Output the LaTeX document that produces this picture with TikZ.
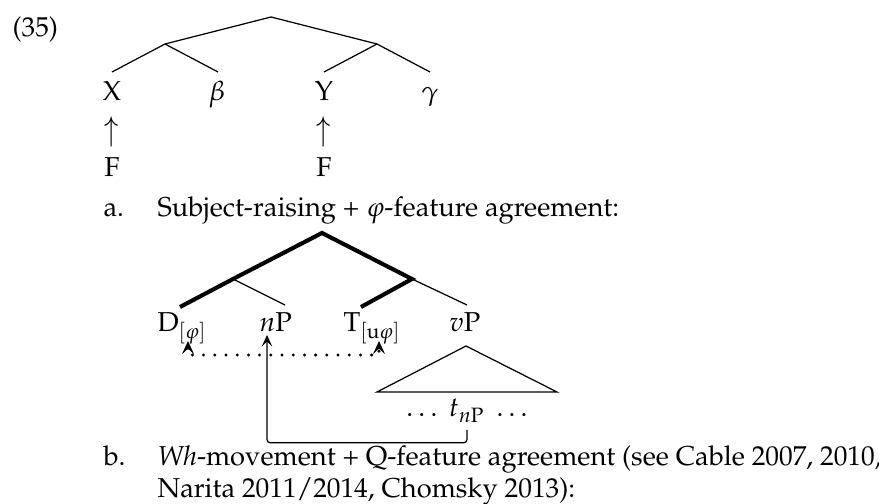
\documentclass[tikz,border=0pt]{standalone}
\usepackage[T1]{fontenc}
\usepackage{mathpazo}
\usetikzlibrary{arrows.meta,calc}
\begin{document}
\begin{tikzpicture}[x=0.366pt,y=-0.366pt,
  lbl/.style={inner sep=0pt,anchor=base},
  lblw/.style={inner sep=0pt,anchor=base west},
  branch/.style={line width=0.45pt},
  heavy/.style={line width=1.5pt},
  head/.tip={Stealth[length=4.2pt,width=3.8pt,inset=1.8pt]},
  bighead/.tip={Stealth[length=4.8pt,width=4.4pt,inset=2pt,line width=0.4pt]},
  tip/.style={-head},
  dotline/.style={line width=1.2pt,line cap=round,dash pattern=on 0pt off 4.1pt},
  upmark/.style={inner sep=0pt,anchor=center},
]
\useasboundingbox (0,0) rectangle (879,504);

% example number
\node[lblw] (num) at (12,37) {(35)};

% ---------- schematic tree ----------
\coordinate (top) at (271,17);
\coordinate (tl) at (165,44);
\coordinate (tr) at (377,44);
\coordinate (xe) at (112,72);
\coordinate (be) at (218,72);
\coordinate (ye) at (324,72);
\coordinate (ge) at (430,72);
\draw[branch] (xe) -- (tl) -- (top) -- (tr) -- (ge);
\draw[branch] (tl) -- (be);
\draw[branch] (tr) -- (ye);

\node[lbl] (x) at (112,101) {X};
\node[lbl] (beta) at (217,101) {$\beta$};
\node[lbl] (y) at (324,101) {Y};
\node[lbl] (gamma) at (430,101) {$\gamma$};
\node[upmark] (ux) at (112,132) {\scalebox{1}[1.2]{$\uparrow$}};
\node[upmark] (uy) at (324,132) {\scalebox{1}[1.2]{$\uparrow$}};
\node[lbl] (fx) at (112,177) {F};
\node[lbl] (fy) at (324,177) {F};

% ---------- sub-example a ----------
\node[lblw] (la) at (103,217) {a.};
\node[lblw] (ta) at (157,217) {Subject-raising + $\varphi$-feature agreement:};

\coordinate (rt) at (322,233);
\coordinate (nl) at (233,279);
\coordinate (nr) at (412,279);
\coordinate (de) at (180,307);
\coordinate (ne) at (285,305);
\coordinate (te) at (361,307);
\coordinate (ve) at (467,305);
\draw[heavy] (de) -- (nl) -- (rt) -- (nr) -- (te);
\draw[branch] (nl) -- (ne);
\draw[branch] (nr) -- (ve);

\node[lblw] (d) at (157,332) {D$_{[\varphi]}$};
\node[lblw] (np) at (259,332) {$n$P};
\node[lblw] (t) at (343,332) {T$_{[\mathrm{u}\varphi]}$};
\node[lblw] (vp) at (449,332) {$v$P};

% agreement between D and T
\coordinate (dtip) at (188,341);
\coordinate (ttip) at (379,341);
\coordinate (dotrow) at (0,355);
\draw[dotline,bighead-bighead]
  (dtip) -- (dtip |- dotrow) -- (ttip |- dotrow) -- (ttip);

% vP triangle
\coordinate (va) at (466,346);
\coordinate (vl) at (377,392);
\coordinate (vr) at (557,392);
\draw[branch] (va) -- (vl) -- (vr) -- cycle;

\node[lbl] (tnp) at (467,417) {$\ldots\ t_{n\mathrm{P}}\ \ldots$};

% movement of nP
\coordinate (nptip) at (267,335);
\draw[branch,tip,rounded corners=1.2pt] ($(tnp.south)+(0,7)$) -- ++(0,13) -| (nptip);

% ---------- sub-example b ----------
\node[lblw] (lb) at (103,466) {b.};
\node[lblw] (tb1) at (157,466) {\textit{Wh}-movement + Q-feature agreement (see Cable 2007, 2010,};
\node[lblw] (tb2) at (157,498) {Narita 2011/2014, Chomsky 2013):};
\end{tikzpicture}
\end{document}
